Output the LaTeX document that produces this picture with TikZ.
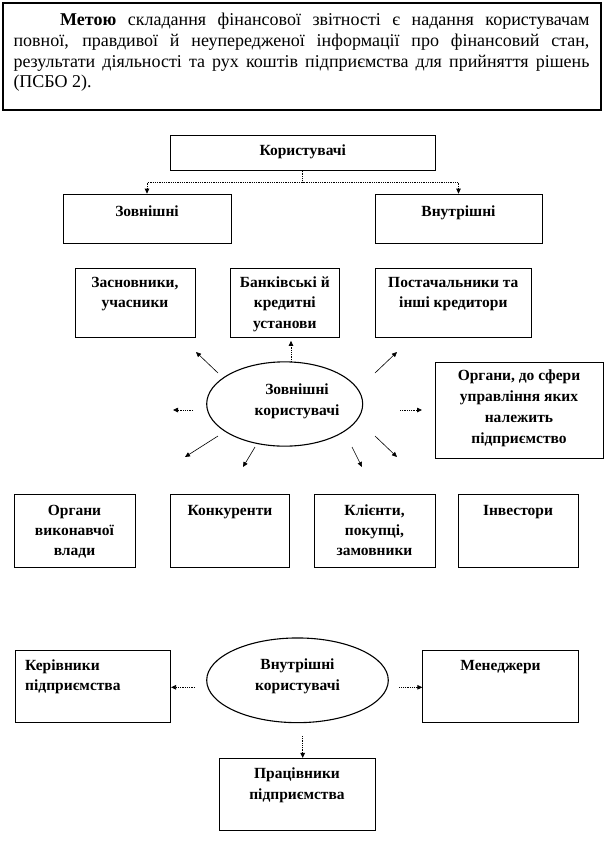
\documentclass[tikz,border=0pt]{standalone}
\usepackage{fontspec}
\setmainfont{Liberation Serif}
\usetikzlibrary{arrows.meta,shapes.geometric}
\begin{document}
\begin{tikzpicture}[x=1pt,y=-1pt,
  box/.style={draw=black, line width=0.7pt, rectangle, inner sep=0pt},
  lbl/.style={font=\fontsize{15.5}{20.5}\selectfont\bfseries, align=center, inner sep=0pt, anchor=base},
  ell/.style={draw=black, line width=1.1pt, ellipse, inner sep=0pt},
  darr/.style={densely dotted, line width=0.8pt, -{Triangle[length=5pt,width=4.5pt]}},
  sarr/.style={line width=0.6pt, -{Triangle[length=5pt,width=4.5pt]}},
]
\useasboundingbox (0,0) rectangle (606,855);

% goal box
\node[draw=black, line width=1.6pt, minimum width=598.3, minimum height=107.3, inner sep=0pt] (goal) at (301.85,56.35) {};
\node[anchor=base west, text width=576pt, inner sep=0pt, align=justify,
      font=\fontsize{18}{20.8}\selectfont] (goalT) at (13.3,25.5)
  {\hspace*{46.7pt}\textbf{Метою} складання фінансової звітності є надання користувачам\linebreak
   повної, правдивої й неупередженої інформації про фінансовий стан,\linebreak
   результати діяльності та рух коштів підприємства для прийняття рішень\linebreak
   (ПСБО 2).};

% users
\node[box, minimum width=264.5, minimum height=35.5] (kor) at (302.75,152.75) {};
\node[lbl] (korT) at (302.75,155.7) {Користувачі};
\node[box, minimum width=168, minimum height=49] (zov) at (147,218.5) {};
\node[lbl] (zovT) at (147,216.3) {Зовнішні};
\node[box, minimum width=167, minimum height=49] (vnu) at (458.5,218.5) {};
\node[lbl] (vnuT) at (458.5,216.3) {Внутрішні};
\draw[darr] (kor.south) -- ++(0,11.5) -| (zov.north);
\draw[darr] (kor.south) -- ++(0,11.5) -| (vnu.north);

% external users (multi-line labels are placed by their last baseline)
\node[box, minimum width=120, minimum height=69] (zasn) at (135,302.5) {};
\node[lbl] (zasnT) at (135,307.8) {Засновники,\\учасники};
\node[box, minimum width=108.3, minimum height=69] (bank) at (284.85,302.5) {};
\node[lbl] (bankT) at (284.85,328.3) {Банківські й\\кредитні\\установи};
\node[box, minimum width=156.7, minimum height=69] (post) at (453.35,302.5) {};
\node[lbl] (postT) at (453.35,307.8) {Постачальники та\\інші кредитори};
\node[box, minimum width=168, minimum height=95.3] (organ) at (519,410.35) {};
\node[lbl, font=\fontsize{15.5}{21.3}\selectfont\bfseries] (organT) at (519,443.9) {Органи, до сфери\\управління яких\\належить\\підприємство};

\node[ell, minimum width=156, minimum height=84.3] (ext) at (284.7,404) {};
\node[lbl, font=\fontsize{15.5}{21.7}\selectfont\bfseries] (extT) at (297,415.7) {Зовнішні\\користувачі};

\node[box, minimum width=121, minimum height=73] (orgv) at (74.5,530.5) {};
\node[lbl, font=\fontsize{15.5}{20}\selectfont\bfseries] (orgvT) at (74.5,555.7) {Органи\\виконавчої\\влади};
\node[box, minimum width=119, minimum height=73] (konk) at (230,530.5) {};
\node[lbl] (konkT) at (230,515.7) {Конкуренти};
\node[box, minimum width=121, minimum height=73] (klien) at (374.5,530.5) {};
\node[lbl, font=\fontsize{15.5}{20}\selectfont\bfseries] (klienT) at (374.5,555.7) {Клієнти,\\покупці,\\замовники};
\node[box, minimum width=120, minimum height=73] (inv) at (518,530.5) {};
\node[lbl] (invT) at (518,515.7) {Інвестори};

% arrows around external ellipse
\coordinate (e1s) at (218,373); \coordinate (e1e) at (196,352);
\coordinate (e2s) at (291,361.7);
\coordinate (e3s) at (375,373); \coordinate (e3e) at (397,352);
\coordinate (e4s) at (193,410); \coordinate (e4e) at (173,410);
\coordinate (e5s) at (400,410); \coordinate (e5e) at (422,410);
\coordinate (e6s) at (218,436); \coordinate (e6e) at (185,457);
\coordinate (e7s) at (255,447); \coordinate (e7e) at (243,467);
\coordinate (e8s) at (352,447); \coordinate (e8e) at (362,467);
\coordinate (e9s) at (375,436); \coordinate (e9e) at (397,457);
\draw[sarr] (e1s) -- (e1e);
\draw[darr, shorten >=3.5pt] (e2s) -- (e2s |- bank.south);
\draw[sarr] (e3s) -- (e3e);
\draw[darr] (e4s) -- (e4e);
\draw[darr] (e5s) -- (e5e);
\draw[sarr] (e6s) -- (e6e);
\draw[sarr] (e7s) -- (e7e);
\draw[sarr] (e8s) -- (e8e);
\draw[sarr] (e9s) -- (e9e);

% internal users
\node[ell, minimum width=181.6, minimum height=84.7] (int) at (297.5,680.3) {};
\node[lbl, font=\fontsize{15.5}{21}\selectfont\bfseries] (intT) at (297.5,690) {Внутрішні\\користувачі};
\node[box, minimum width=155.7, minimum height=72] (ker) at (92.85,686.7) {};
\node[lbl, anchor=base west, align=left] (kerT) at (25,690.5) {Керівники\\підприємства};
\node[box, minimum width=155.6, minimum height=72] (men) at (500.5,686.7) {};
\node[lbl] (menT) at (500.5,670.7) {Менеджери};
\node[box, minimum width=156, minimum height=72.4] (prac) at (297,794.5) {};
\node[lbl, font=\fontsize{15.5}{21.5}\selectfont\bfseries] (pracT) at (297,799.5) {Працівники\\підприємства};

\coordinate (il) at (195,687.3);
\coordinate (ir) at (399.3,687.3);
\coordinate (id) at (302.7,736);
\draw[darr] (il) -- (il -| ker.east);
\draw[darr] (ir) -- (ir -| men.west);
\draw[darr] (id) -- (id |- prac.north);
\end{tikzpicture}
\end{document}
